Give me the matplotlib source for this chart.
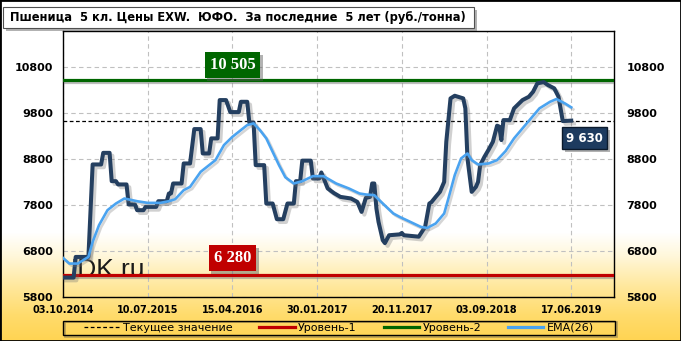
import numpy as np
import matplotlib.pyplot as plt
import matplotlib.patheffects as pe
from matplotlib.patches import Rectangle
from matplotlib.lines import Line2D


# weekly samples, labelled every 40 samples
tick_dates = ['03.10.2014', '10.07.2015', '15.04.2016', '30.01.2017',
              '20.11.2017', '03.09.2018', '17.06.2019']
tick_step = 40

# wheat price, rub/t (sample index, value)
price_idx = [0, 5, 6, 12, 14, 18, 19, 22, 23, 25, 26, 30, 31, 34, 35, 38, 39, 44,
             45, 49, 50, 51, 52, 56, 57, 60, 62, 65, 66, 69, 70, 73, 74, 77, 79, 83,
             84, 87, 88, 90, 91, 95, 96, 99, 101, 104, 106, 109, 110, 112, 113, 117,
             118, 121, 122, 125, 128, 131, 136, 139, 141, 143, 145, 146, 147, 148,
             149, 151, 152, 154, 159, 160, 161, 168, 171, 173, 174, 176, 178, 180,
             181, 183, 185, 189, 190, 191, 193, 195, 196, 197, 199, 201, 203, 205,
             206, 207, 208, 211, 213, 217, 220, 222, 224, 227, 229, 232, 234, 236, 240]
price_val = [6222, 6222, 6670, 6670, 8678, 8678, 8930, 8930, 8315, 8315, 8244, 8244,
             7809, 7809, 7685, 7685, 7757, 7757, 7880, 7880, 8048, 8048, 8265, 8265,
             8700, 8700, 9446, 9446, 8917, 8917, 9244, 9244, 10076, 10076, 9815, 9815,
             10039, 10039, 9587, 9587, 8663, 8663, 7830, 7830, 7489, 7489, 7830, 7830,
             8315, 8315, 8761, 8761, 8374, 8374, 8504, 8157, 8055, 7974, 7939, 7865,
             7648, 7952, 7974, 8265, 8265, 7722, 7431, 7033, 6970, 7141, 7160, 7190,
             7141, 7110, 7322, 7830, 7860, 7974, 8083, 8300, 9170, 10113, 10170, 10113,
             9896, 8809, 8083, 8191, 8300, 8663, 8843, 9000, 9170, 9520, 9500, 9207,
             9641, 9641, 9896, 10076, 10148, 10257, 10439, 10467, 10402, 10330, 10148,
             9620, 9630]

# EMA(26)
ema_idx = [0, 3, 7, 12, 14, 17, 21, 25, 29, 35, 40, 46, 50, 53, 57, 60, 65, 72, 76,
           80, 84, 87, 90, 93, 96, 99, 102, 105, 109, 113, 118, 123, 129, 135, 140,
           143, 147, 151, 156, 159, 164, 169, 172, 176, 180, 182, 185, 188, 191, 193,
           196, 201, 205, 209, 213, 219, 225, 230, 233, 237, 240]
ema_val = [6648, 6526, 6526, 6670, 6996, 7359, 7685, 7830, 7939, 7880, 7844, 7844,
           7880, 7924, 8120, 8191, 8518, 8772, 9098, 9278, 9424, 9533, 9570, 9424,
           9244, 8952, 8663, 8400, 8265, 8315, 8424, 8424, 8265, 8157, 8048, 8026,
           8011, 7830, 7613, 7539, 7431, 7322, 7300, 7396, 7613, 7939, 8446, 8809,
           8917, 8772, 8678, 8700, 8772, 8968, 9244, 9570, 9896, 10039, 10098, 10004,
           9918]

current = 9630
level1 = 6280
level2 = 10505

title = 'Пшеница  5 кл. Цены EXW.  ЮФО.  За последние  5 лет (руб./тонна)'
legend_labels = ['Текущее значение', 'Уровень-1', 'Уровень-2', 'EMA(26)']

W, H = 681, 341
fig = plt.figure(figsize=(W / 100, H / 100), dpi=100)

# white -> yellow background gradient
bg = fig.add_axes([0, 0, 1, 1], zorder=-10)
rows = np.arange(H)
stop_y = [0, 232, 255, 285, 315, 341]
stop_c = [(1, 1, 1), (1, 1, 1), (1.0, 0.97, 0.86), (1.0, 0.91, 0.62),
          (1.0, 0.86, 0.42), (1.0, 0.83, 0.32)]
grad = np.stack([np.interp(rows, stop_y, [c[k] for c in stop_c]) for k in range(3)], axis=1)
bg.imshow(grad[:, None, :], aspect='auto', extent=[0, 1, 0, 1], origin='upper')
bg.set_axis_off()

x0, x1, y0, y1 = 63, 614, 31, 297
ax = fig.add_axes([x0 / W, 1 - y1 / H, (x1 - x0) / W, (y1 - y0) / H])
ax.set_facecolor('none')
ax.set_xlim(0, 260.2)
ax.set_ylim(5800, 11576)

yt = np.arange(5800, 11000, 1000)
ax.set_yticks(yt)
ax.set_xticks(np.arange(len(tick_dates)) * tick_step)
ax.set_xticklabels(tick_dates, fontsize=7, fontweight='bold')
ax.set_yticklabels([str(v) for v in yt], fontsize=8, fontweight='bold')
ax.tick_params(axis='x', length=0, pad=5.8)
ax.tick_params(axis='y', length=0, pad=7)
ax.grid(True, color='#c0c0c0', linestyle=(0, (4, 3)), linewidth=0.8)
for s in ax.spines.values():
    s.set_color('black')
    s.set_linewidth(1)

ax2 = ax.twinx()
ax2.set_ylim(ax.get_ylim())
ax2.set_yticks(yt)
ax2.set_yticklabels([str(v) for v in yt], fontsize=8, fontweight='bold')
ax2.tick_params(axis='y', length=0, pad=9)
ax2.spines[:].set_visible(False)

line_shadow = [pe.SimpleLineShadow(offset=(1.5, -1.5), shadow_color='#7f7f7f', alpha=0.5), pe.Normal()]

ax.text(0.0145, 0.075, 'IDK.ru', transform=ax.transAxes, fontsize=19,
        family='Liberation Sans', color='#1a1a1a', va='baseline', ha='left', zorder=2)

ax.axhline(current, color='black', lw=0.9, ls=(0, (3, 2)), zorder=3)
ax.axhline(level1, color='#c00000', lw=2.3, zorder=4, path_effects=line_shadow)
ax.axhline(level2, color='#006600', lw=2.3, zorder=4, path_effects=line_shadow)

ax.plot(price_idx, price_val, color='#243f60', lw=2.9, solid_joinstyle='round',
        zorder=5, path_effects=[pe.SimpleLineShadow(offset=(2, -2), shadow_color='#666666', alpha=0.3),
                                pe.Normal()])
ax.plot(ema_idx, ema_val, color='#4aa3f0', lw=1.9, solid_joinstyle='round', zorder=6,
        path_effects=[pe.SimpleLineShadow(offset=(1.5, -1.5), shadow_color='#777777', alpha=0.3),
                      pe.Normal()])

mid = 2 * tick_step
box_shadow = [pe.withSimplePatchShadow(offset=(2, -2), shadow_rgbFace='#555555', alpha=0.45)]
for val, dy, col in [(level2, 11, '#006600'), (level1, 12, '#c00000')]:
    t = ax.annotate(f'{val:,}'.replace(',', ' '), xy=(mid, val), xytext=(0, dy),
                    textcoords='offset points', ha='center', va='center', color='white',
                    fontsize=12, fontweight='bold', family='Liberation Serif', zorder=8,
                    bbox=dict(boxstyle='square,pad=0.3', fc=col, ec='none'))
    t.get_bbox_patch().set_path_effects(box_shadow)

t = ax.annotate(f'{current:,}'.replace(',', ' '), xy=(price_idx[-1], current), xytext=(9.6, -12.6),
                textcoords='offset points', ha='center', va='center', color='white',
                fontsize=8.5, fontweight='bold', zorder=8,
                bbox=dict(boxstyle='square,pad=0.35', fc='#1d3b5f', ec='#0b1a2c', lw=1))
t.get_bbox_patch().set_path_effects(box_shadow)

# title box
tb = Rectangle((3 / W, 1 - 28 / H), 471 / W, 21 / H, transform=fig.transFigure,
               fc='white', ec='#505050', lw=0.8, zorder=5)
tb.set_path_effects([pe.withSimplePatchShadow(offset=(2, -2), shadow_rgbFace='#666666', alpha=0.5)])
fig.add_artist(tb)
fig.text(10 / W, 1 - 17.5 / H, title, fontsize=8.3, fontweight='bold', va='center', ha='left', zorder=6)

# legend frame with a thin shadow line
fig.add_artist(Rectangle((64.5 / W, 1 - 336.5 / H), 552 / W, 14.3 / H, transform=fig.transFigure,
                         fill=False, ec='#8a7a50', lw=1.2, alpha=0.6, zorder=4))
fig.add_artist(Rectangle((63 / W, 1 - 335 / H), 552 / W, 14.3 / H, transform=fig.transFigure,
                         fill=False, ec='black', lw=1, zorder=5))
handles = [Line2D([], [], color='black', lw=0.9, ls=(0, (3, 2))),
           Line2D([], [], color='#c00000', lw=2.3),
           Line2D([], [], color='#006600', lw=2.3),
           Line2D([], [], color='#4aa3f0', lw=2.3)]
ax.legend(handles, legend_labels, loc='center', bbox_to_anchor=(339 / W, 1 - 328 / H),
          bbox_transform=fig.transFigure, ncol=4, frameon=False, fontsize=8,
          handlelength=3.2, handletextpad=0.3, columnspacing=2.4, borderpad=0, borderaxespad=0)

fig.add_artist(Rectangle((0, 0), 1, 1, transform=fig.transFigure, fill=False, ec='black', lw=2))

fig.savefig('out.png', dpi=100)
